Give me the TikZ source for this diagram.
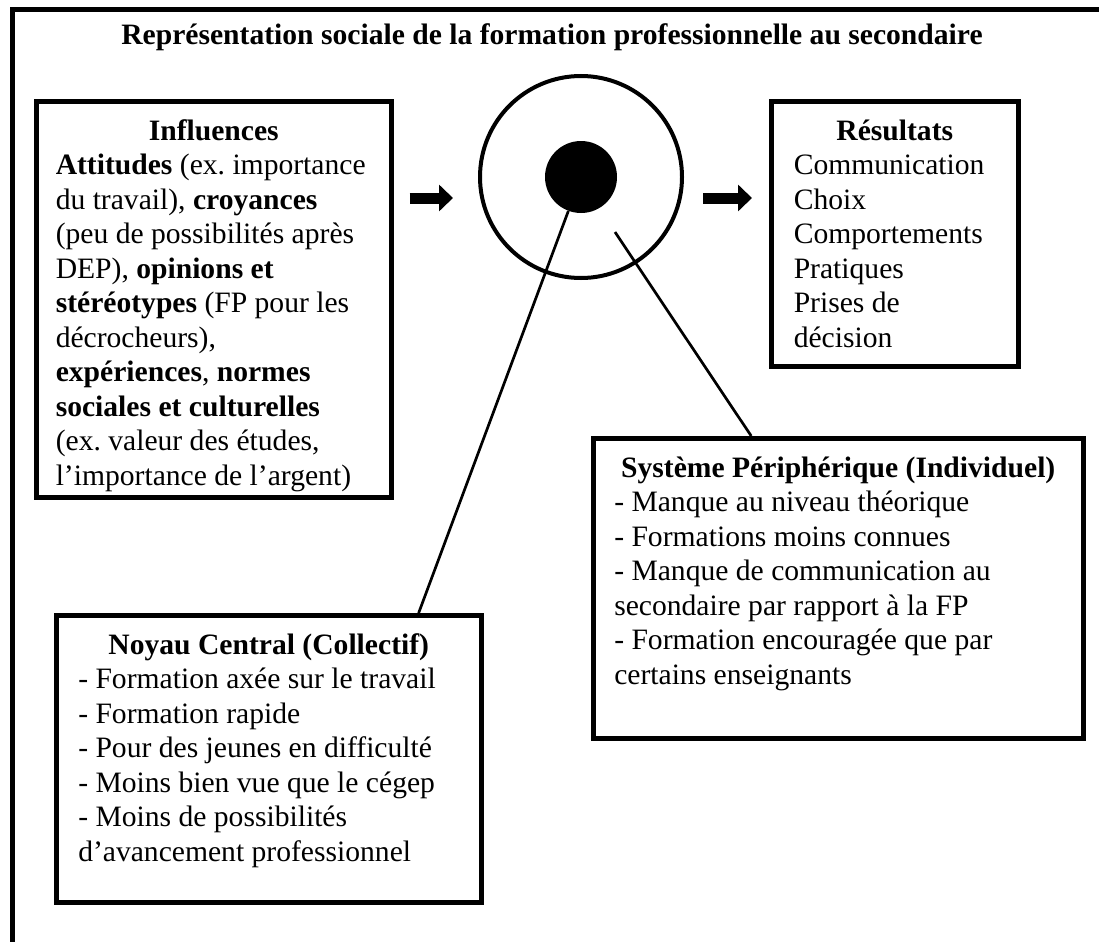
\documentclass[tikz,border=0pt]{standalone}
\usepackage{fontspec}
\setmainfont{Liberation Serif}
\usetikzlibrary{arrows.meta,calc,shadows}

\newcommand*{\px}{0.75pt}
\newcommand*{\bodyfont}{\fontsize{22.2pt}{25.9pt}\selectfont}
\frenchspacing

\begin{document}
\begin{tikzpicture}
[
	x=\px, y=-\px,
	every node/.style={font=\bodyfont},
	boxframe/.style={rectangle,draw,fill=white,line width=4.5*\px,inner sep=0pt,anchor=north west,
		drop shadow={shadow xshift=1.2pt,shadow yshift=-1.2pt,fill=black!60,opacity=0.35}},
	boxtext/.style={anchor=base,inner sep=0pt,align=flush left},
	bigarrow/.style={line width=8.25pt,-{Triangle[length=10.5pt,width=19.5pt]}},
	link/.style={line width=2.7*\px}
]

	\useasboundingbox (0,0) rectangle (1099,942);

	% outer frame
	\draw[line width=5*\px] (12.5,942) -- (12.5,9.5) -- (1099,9.5);

	% title
	\node[anchor=base,inner sep=0pt,font=\bodyfont\bfseries] (title) at (552,45)
		{Représentation sociale de la formation professionnelle au secondaire};

	% influences
	\node[boxframe,minimum width=355*\px,minimum height=396*\px] (inflbox) at (34,99) {};
	\node[boxtext,text width=316*\px] (infltext) at ([yshift=-41*\px]inflbox.north)
		{\makebox[\linewidth]{\textbf{Influences}}\\
		\textbf{Attitudes} (ex. importance\\
		du travail), \textbf{croyances}\\
		(peu de possibilités après\\
		DEP), \textbf{opinions et}\\
		\textbf{stéréotypes} (FP pour les\\
		décrocheurs),\\
		\textbf{expériences}, \textbf{normes}\\
		\textbf{sociales et culturelles}\\
		(ex. valeur des études,\\
		l’importance de l’argent)};

	% representation: core and periphery
	\node[circle,draw,line width=4*\px,minimum size=202*\px,inner sep=0pt] (ring) at (581,177) {};
	\node[circle,fill,minimum size=72*\px,inner sep=0pt] (core) at (ring.center) {};

	% results
	\node[boxframe,minimum width=247*\px,minimum height=265*\px] (resbox) at (769,99) {};
	\node[boxtext,text width=202*\px] (restext) at ([yshift=-41*\px]resbox.north)
		{\makebox[\linewidth]{\textbf{Résultats}}\\
		Communication\\
		Choix\\
		Comportements\\
		Pratiques\\
		Prises de\\
		décision};

	% peripheral system
	\node[boxframe,minimum width=490*\px,minimum height=300*\px] (sysbox) at (591,436) {};
	\node[boxtext,text width=448*\px] (systext) at ([yshift=-41*\px]sysbox.north)
		{\makebox[\linewidth]{\textbf{Système Périphérique (Individuel)}}\\
		- Manque au niveau théorique\\
		- Formations moins connues\\
		- Manque de communication au\\
		secondaire par rapport à la FP\\
		- Formation encouragée que par\\
		certains enseignants};

	% central core
	\node[boxframe,minimum width=425*\px,minimum height=287*\px] (noyaubox) at (54,613) {};
	\node[boxtext,text width=381*\px] (noyautext) at ([yshift=-41*\px]noyaubox.north)
		{\makebox[\linewidth]{\textbf{Noyau Central (Collectif)}}\\
		- Formation axée sur le travail\\
		- Formation rapide\\
		- Pour des jeunes en difficulté\\
		- Moins bien vue que le cégep\\
		- Moins de possibilités\\
		d’avancement professionnel};

	% arrows
	\coordinate (arrowrow) at (0,198);
	\draw[bigarrow,shorten <=16*\px,shorten >=25*\px] (inflbox.east |- arrowrow) -- (ring.west |- arrowrow);
	\draw[bigarrow,shorten <=19*\px,shorten >=17*\px] (ring.east |- arrowrow) -- (resbox.west |- arrowrow);

	% links to the boxes
	\coordinate (ringpt) at (615,232);
	\draw[link] (core) -- ($(noyaubox.north west)!0.849!(noyaubox.north east)$);
	\draw[link] (ringpt) -- ($(sysbox.north west)!0.324!(sysbox.north east)$);

\end{tikzpicture}
\end{document}
